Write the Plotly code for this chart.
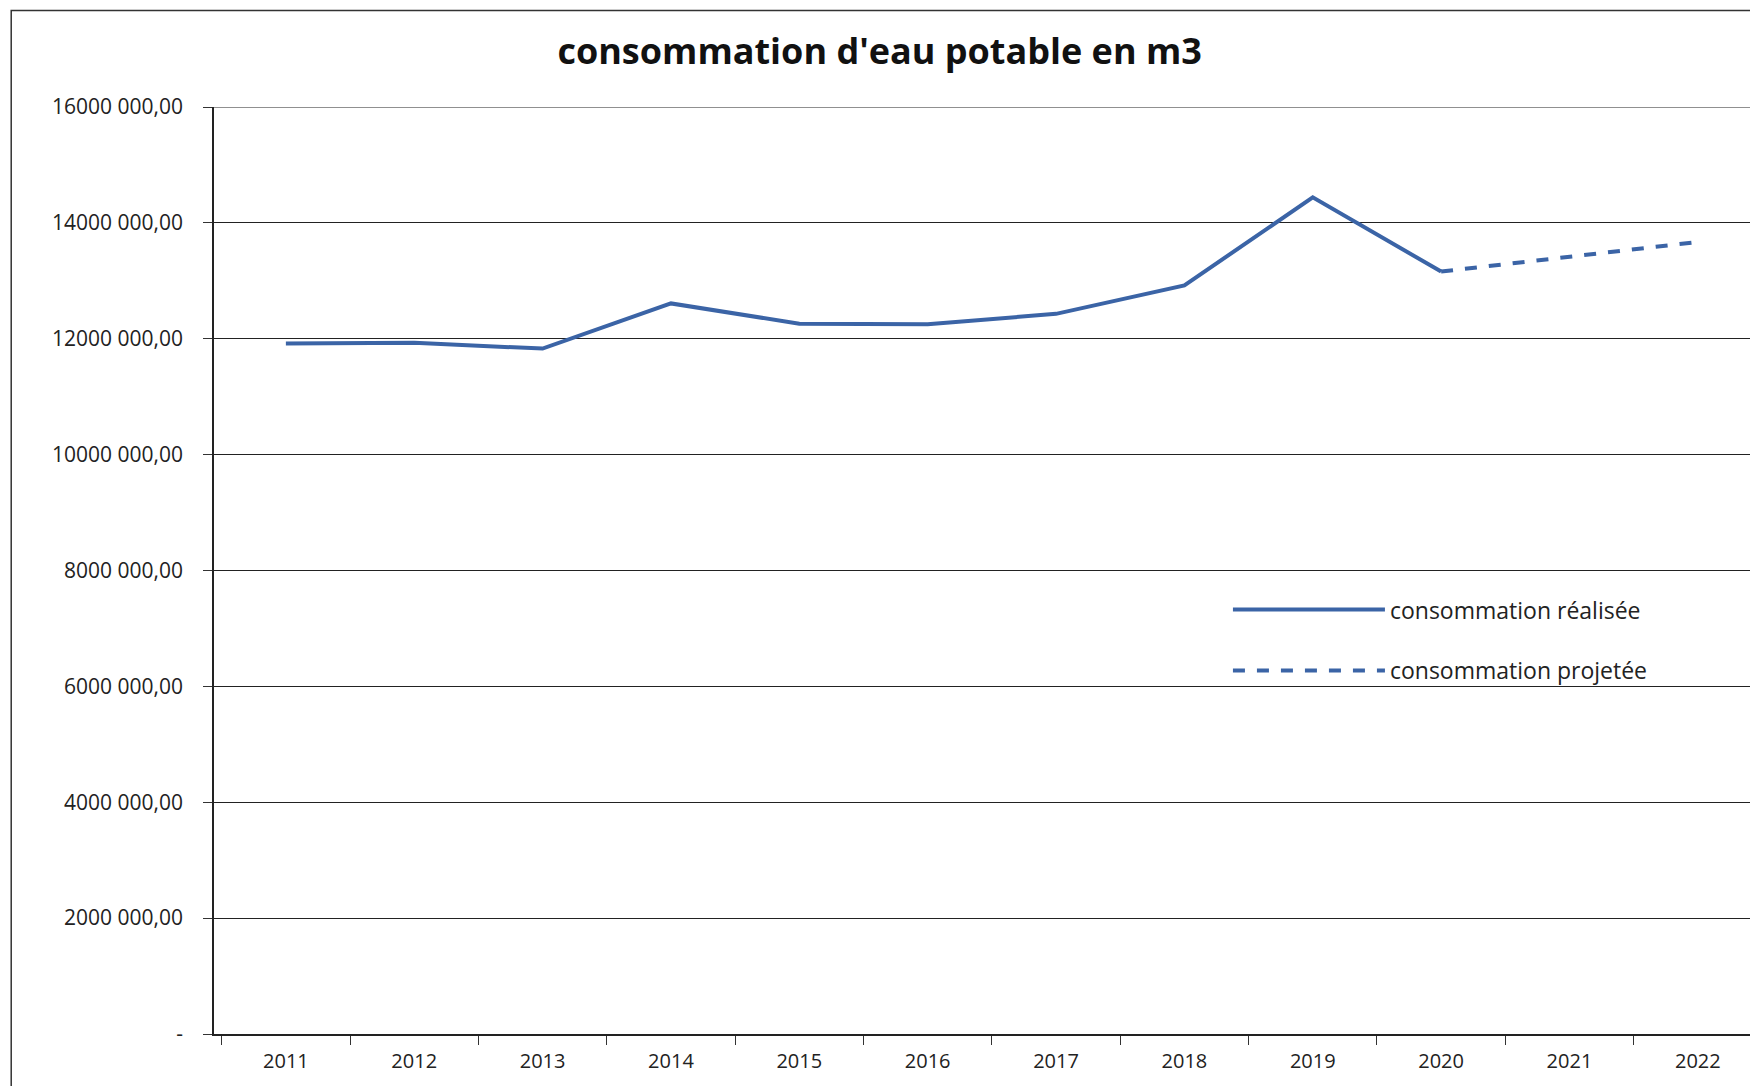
import plotly.graph_objects as go

# annees et consommation (m3)
years = ["2011", "2012", "2013", "2014", "2015", "2016",
         "2017", "2018", "2019", "2020", "2021", "2022"]
realise = [11920000, 11930000, 11830000, 12610000, 12260000, 12250000,
           12430000, 12920000, 14440000, 13160000]
projete_years = ["2020", "2021", "2022"]
projete = [13160000, 13410000, 13670000]

ytick_vals = [0, 2e6, 4e6, 6e6, 8e6, 10e6, 12e6, 14e6, 16e6]
ytick_text = ["-", "2000 000,00", "4000 000,00", "6000 000,00", "8000 000,00",
              "10000 000,00", "12000 000,00", "14000 000,00", "16000 000,00"]

blue = "#3b64a6"

fig = go.Figure()

fig.add_trace(go.Scatter(
    x=years[:len(realise)],
    y=realise,
    mode="lines",
    name="consommation réalisée",
    legendgroup="a",
    line=dict(color=blue, width=4),
))

fig.add_trace(go.Scatter(
    x=projete_years,
    y=projete,
    mode="lines",
    name="consommation projetée",
    legendgroup="b",
    line=dict(color=blue, width=4, dash="dash"),
))

# ligne de grille du haut (16 000 000) que plotly ne trace pas au bord
fig.add_shape(type="line", xref="paper", yref="y",
              x0=0, x1=1, y0=ytick_vals[-1], y1=ytick_vals[-1],
              line=dict(color="#222222", width=1.2))

# cadre exterieur du graphique
fig.add_shape(type="rect", xref="paper", yref="paper",
              x0=-0.131, x1=1.0, y0=-0.058, y1=1.104,
              line=dict(color="#333333", width=1.5))

fig.update_layout(
    width=1758,
    height=1086,
    paper_bgcolor="white",
    plot_bgcolor="white",
    margin=dict(l=206, r=4, t=99, b=60),
    font=dict(family="Open Sans", color="#222222", size=20),
    title=dict(
        text="<b>consommation d'eau potable en m3</b>",
        x=0.43, xref="paper", xanchor="center",
        y=0.96, yanchor="middle",
        font=dict(size=36, color="#111111"),
    ),
    xaxis=dict(
        type="category",
        categoryorder="array",
        categoryarray=years,
        tickson="boundaries",
        ticks="outside",
        ticklen=9,
        tickcolor="#333333",
        showline=True,
        linecolor="#222222",
        linewidth=1.5,
        showgrid=False,
        range=[-0.56, 11.5],
        ticklabelstandoff=8,
        tickfont=dict(size=20),
    ),
    yaxis=dict(
        range=[0, 16e6],
        tickvals=ytick_vals,
        ticktext=ytick_text,
        ticks="outside",
        ticklen=9,
        tickcolor="#333333",
        showline=True,
        linecolor="#222222",
        linewidth=1.5,
        showgrid=True,
        gridcolor="#222222",
        gridwidth=1.2,
        zeroline=False,
        ticklabelstandoff=16,
        tickfont=dict(size=21),
    ),
    legend=dict(
        x=0.655, y=0.481, xanchor="left", yanchor="top",
        bgcolor="rgba(0,0,0,0)",
        font=dict(size=23),
        tracegroupgap=28,
        itemwidth=152,
    ),
    showlegend=True,
)

fig.write_html("out.html")
